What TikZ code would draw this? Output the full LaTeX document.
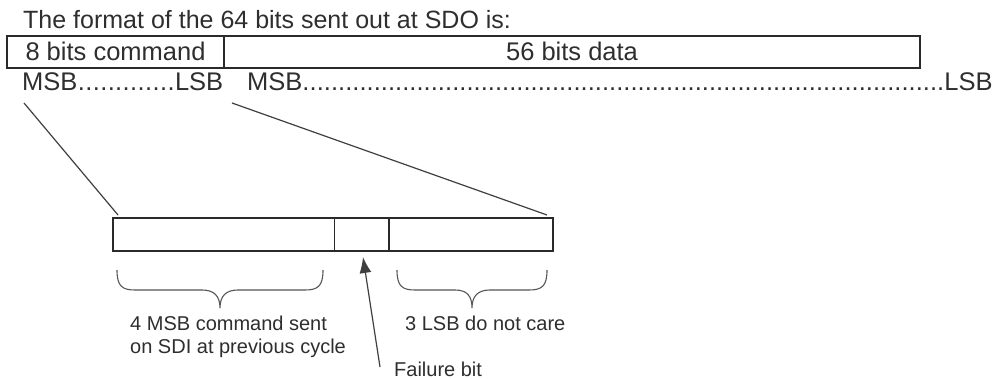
\documentclass[tikz,border=0pt]{standalone}
\usepackage{fontspec}
\setmainfont{Liberation Sans}
\usetikzlibrary{arrows.meta}
\definecolor{ink}{HTML}{2A2A2A}
\definecolor{txt}{HTML}{2E2E2E}
\newcommand{\dotrow}[1]{\makebox[#1][s]{MSB\xleaders\hbox{.}\hfill LSB}}
\begin{document}
\begin{tikzpicture}[x=1pt,y=-1pt,
  box/.style={draw=ink,line width=1.8pt,inner sep=0pt,minimum height=32pt},
  bigtxt/.style={inner sep=0pt,text=txt,font=\fontsize{25.5}{30}\selectfont},
  smalltxt/.style={inner sep=0pt,text=txt,font=\fontsize{20}{23}\selectfont},
  link/.style={draw=ink!90,line width=1.2pt},
  brace/.style={draw=ink!80,line width=1.1pt}]
\useasboundingbox (0,0) rectangle (995,379);
% title
\node[bigtxt,anchor=base west,font=\fontsize{25}{30}\selectfont] (title) at (23,29) {The format of the 64 bits sent out at SDO is:};
% top boxes
\node[box,minimum width=217pt] (cmd) at (115.5,52) {};
\node[box,minimum width=696pt] (data) at (572,52) {};
\node[bigtxt,anchor=base] (cmdt) at (115.5,61) {8 bits command};
\node[bigtxt,anchor=base] (datat) at (572,61) {56 bits data};
% MSB/LSB rows
\node[bigtxt,anchor=base west] (row1) at (22,91) {\dotrow{201pt}};
\node[bigtxt,anchor=base west] (row2) at (247,91) {\dotrow{745pt}};
% bottom box
\node[box,minimum width=440pt,minimum height=33pt] (bb) at (333,234.5) {};
\coordinate (d1t) at (334,218); \coordinate (d1b) at (334,251);
\coordinate (d2t) at (389,218); \coordinate (d2b) at (389,251);
\draw[draw=ink,line width=0.9pt] (d1t) -- (d1b);
\draw[draw=ink,line width=1.8pt] (d2t) -- (d2b);
% connectors
\coordinate (m1) at (24,103);
\coordinate (m2) at (232,103);
\coordinate (e1) at (118,215);
\coordinate (e2) at (547,215);
\draw[link] (m1) -- (e1);
\draw[link] (m2) -- (e2);
% braces
\draw[brace] (117,270) .. controls (117,286) and (122,290) .. (135,290) -- (202,290)
  .. controls (214,290) and (220,296) .. (220,308)
  .. controls (220,296) and (226,290) .. (238,290) -- (305,290)
  .. controls (318,290) and (323,286) .. (323,270);
\draw[brace] (397,270) .. controls (397,286) and (402,290) .. (415,290) -- (455,290)
  .. controls (467,290) and (472,296) .. (472,308)
  .. controls (472,296) and (478,290) .. (490,290) -- (529,290)
  .. controls (542,290) and (547,286) .. (547,270);
% labels
\node[smalltxt,anchor=base west] (l1a) at (130,330) {4 MSB command sent};
\node[smalltxt,anchor=base west] (l1b) at (130,353) {on SDI at previous cycle};
\node[smalltxt,anchor=base west] (l2) at (405,330) {3 LSB do not care};
\node[smalltxt,anchor=base west] (l3) at (394,376) {Failure bit};
% arrow
\coordinate (atail) at (380,367);
\coordinate (ahead) at (363,257);
\draw[link,-{Latex[length=16pt,width=12pt]}] (atail) -- (ahead);
\end{tikzpicture}
\end{document}
